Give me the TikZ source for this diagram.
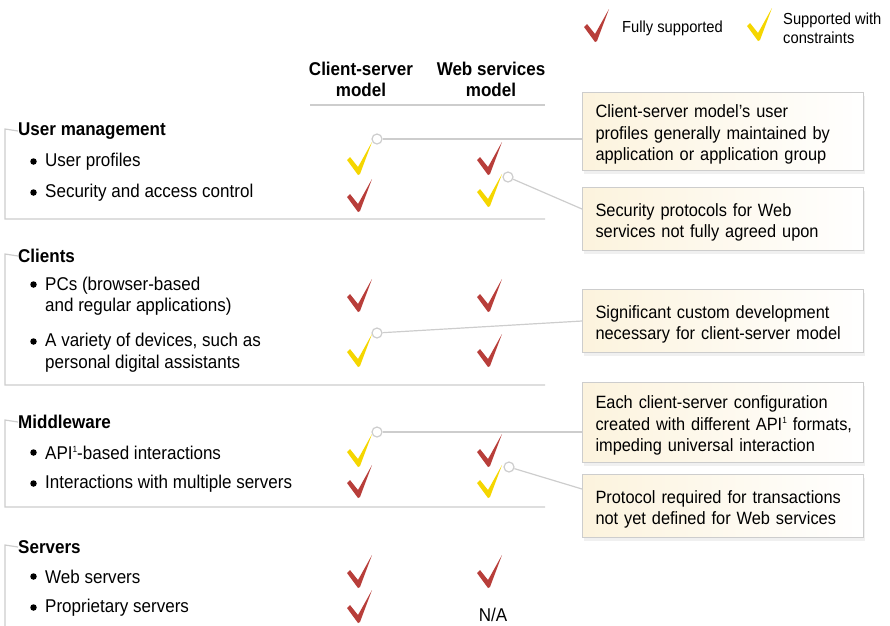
\documentclass[tikz,border=0pt]{standalone}
\usepackage{fontspec}
\setmainfont{Liberation Sans}[FakeStretch=0.92]
\usetikzlibrary{shadows}
\definecolor{okred}{RGB}{184,62,58}
\definecolor{okyel}{RGB}{245,214,0}
\definecolor{rule}{RGB}{205,205,205}
\definecolor{cream}{RGB}{252,243,221}
\newcommand\sone{\raisebox{0.75ex}{\fontsize{9}{9}\selectfont 1}}
\begin{document}
\begin{tikzpicture}[x=1pt,y=-1pt,
  txt/.style={font=\fontsize{18.5}{21.5}\selectfont},
  hd/.style={font=\fontsize{18.5}{21.5}\selectfont\bfseries,anchor=west,inner sep=0pt,yshift=-2pt},
  itm/.style={txt,anchor=west,align=left,inner sep=0pt,yshift=-2pt},
  blt/.style={circle,fill=black,inner sep=0pt,minimum size=6.5pt},
  lg/.style={font=\fontsize{16}{19}\selectfont,anchor=west,align=left,inner sep=0pt},
  note/.style={font=\fontsize{17.8}{21.5}\selectfont,draw=rule,line width=1pt,left color=cream,right color=white,
    drop shadow={opacity=0.12,shadow xshift=1pt,shadow yshift=-3pt},
    anchor=north west,text width=255pt,inner xsep=13pt,inner ysep=0pt,align=left,
    execute at begin node={\rule{0pt}{19.5pt}}},
  dot/.style={circle,draw=rule,line width=1.2pt,fill=white,inner sep=0pt,minimum size=10pt},
  link/.style={draw=rule,line width=1.2pt},
  bracket/.style={draw=rule,line width=1.2pt},
  chk/.pic={\path[pic actions] (0,0) -- (-11,-15) -- (-8,-18) -- (0,-8) -- (14,-33) -- (2,-1) -- cycle;}]
  \useasboundingbox (0,0) rectangle (890,625);

  % legend
  \pic[fill=okred] at (595,42) {chk};
  \node[lg] (lgfull) at (622,28) {Fully supported};
  \pic[fill=okyel] at (758,41) {chk};
  \node[lg] (lgpart) at (783,28) {Supported with\\constraints};

  % column heads
  \node[font=\fontsize{18.5}{21}\selectfont\bfseries,align=center] (cs) at (361,79) {Client-server\\model};
  \node[font=\fontsize{18.5}{21}\selectfont\bfseries,align=center] (ws) at (491,79) {Web services\\model};
  \draw[bracket] (310,105) -- (545,105);

  % sections
  \node[hd] (um) at (18,129) {User management};
  \node[hd] (cl) at (18,254) {Clients};
  \node[hd] (mw) at (18,420) {Middleware};
  \node[hd] (sv) at (18,545) {Servers};
  \draw[bracket] (um.west) -- (5,129) -- (5,219) -- (545,219);
  \draw[bracket] (cl.west) -- (5,254) -- (5,385) -- (545,385);
  \draw[bracket] (mw.west) -- (5,420) -- (5,507) -- (545,507);
  \draw[bracket] (sv.west) -- (5,545) -- (5,626);

  \foreach \y in {161.5,192.5,284.5,341.5,452.5,483.5,576.5,607.5}
    \node[blt] (bl\y) at (33.5,\y) {};
  \node[itm] (upro) at (45,160) {User profiles};
  \node[itm] (usec) at (45,191) {Security and access control};
  \node[itm] (cpc) at (45,294) {PCs (browser-based\\and regular applications)};
  \node[itm] (cdev) at (45,350.5) {A variety of devices, such as\\personal digital assistants};
  \node[itm] (mapi) at (45,451) {API\sone-based interactions};
  \node[itm] (mmul) at (45,482) {Interactions with multiple servers};
  \node[itm] (sweb) at (45,575) {Web servers};
  \node[itm] (spro) at (45,606) {Proprietary servers};

  % ticks
  \pic[fill=okyel] at (358,175) {chk};
  \pic[fill=okred] at (488,175) {chk};
  \pic[fill=okred] at (358,212) {chk};
  \pic[fill=okyel] at (488,207) {chk};
  \pic[fill=okred] at (358,312) {chk};
  \pic[fill=okred] at (488,312) {chk};
  \pic[fill=okyel] at (358,367) {chk};
  \pic[fill=okred] at (488,367) {chk};
  \pic[fill=okyel] at (358,467) {chk};
  \pic[fill=okred] at (488,467) {chk};
  \pic[fill=okred] at (358,498) {chk};
  \pic[fill=okyel] at (488,498) {chk};
  \pic[fill=okred] at (358,588) {chk};
  \pic[fill=okred] at (488,588) {chk};
  \pic[fill=okred] at (358,623) {chk};
  \node[txt] (na) at (493,615) {N/A};

  % notes
  \node[note,minimum height=78pt] (n1) at (582,92) {Client-server model's user\\profiles generally maintained by\\application or application group};
  \node[note,minimum height=63pt] (n2) at (582,187) {Security protocols for Web\\services not fully agreed upon};
  \node[note,minimum height=63pt] (n3) at (582,289) {Significant custom development\\necessary for client-server model};
  \node[note,minimum height=80pt] (n4) at (582,382) {Each client-server configuration\\\mbox{created with different API\sone{} formats,}\\impeding universal interaction};
  \node[note,minimum height=63pt] (n5) at (582,474) {Protocol required for transactions\\not yet defined for Web services};

  \node[dot] (d1) at (377,139) {};
  \node[dot] (d2) at (508,177) {};
  \node[dot] (d3) at (377,333) {};
  \node[dot] (d4) at (377,432) {};
  \node[dot] (d5) at (509,467) {};
  \draw[link] (d1) -- (d1 -| n1.west);
  \draw[link] (d2) -- ([yshift=10pt]n2.west);
  \draw[link] (d3) -- (n3.west);
  \draw[link] (d4) -- (d4 -| n4.west);
  \draw[link] (d5) -- ([yshift=17pt]n5.west);
\end{tikzpicture}
\end{document}
